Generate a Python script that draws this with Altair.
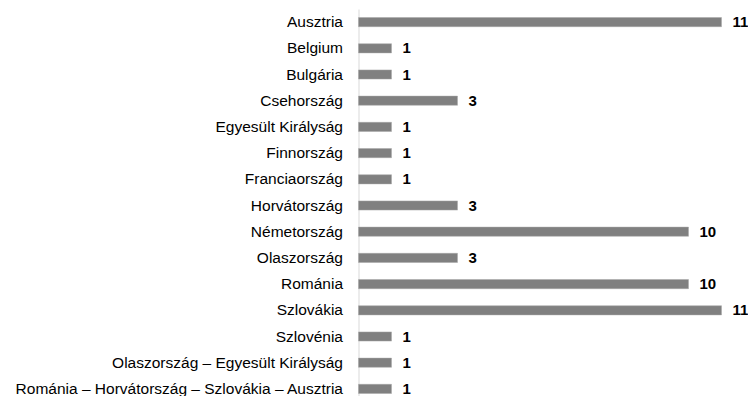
import altair as alt
import pandas as pd

categories = [
    "Ausztria", "Belgium", "Bulgária", "Csehország", "Egyesült Királyság",
    "Finnország", "Franciaország", "Horvátország", "Németország", "Olaszország",
    "Románia", "Szlovákia", "Szlovénia",
    "Olaszország – Egyesült Királyság",
    "Románia – Horvátország – Szlovákia – Ausztria",
]
values = [11, 1, 1, 3, 1, 1, 1, 3, 10, 3, 10, 11, 1, 1, 1]

df = pd.DataFrame({"cat": categories, "val": values})

y = alt.Y("cat:N", sort=categories, title=None,
          scale=alt.Scale(paddingInner=0.65, paddingOuter=0.325, range=[0, 393]),
          axis=alt.Axis(ticks=False, labelPadding=16, labelFontSize=15.5,
                        labelFont="Liberation Sans", labelColor="#000000",
                        domainColor="#d9d9d9", labelLimit=400))
x = alt.X("val:Q", title=None,
          scale=alt.Scale(domain=[0, 12], nice=False, range=[0, 396]),
          axis=None)

bars = alt.Chart(df).mark_bar(color="#808080", stroke="#a6a6a6", strokeWidth=0.5).encode(x=x, y=y)
text = alt.Chart(df).mark_text(align="left", dx=11, fontWeight="bold", fontSize=15,
                               font="Liberation Sans", color="#000000").encode(
    x=x, y=y, text="val:Q")

chart = (bars + text).properties(
    width=389.5, height=387,
    autosize=alt.AutoSizeParams(type="none"),
    padding={"left": 350.5, "top": 1, "right": 0, "bottom": 0},
).configure_view(stroke=None)

chart.save("out.html", embed_options={"renderer": "svg", "actions": False})
